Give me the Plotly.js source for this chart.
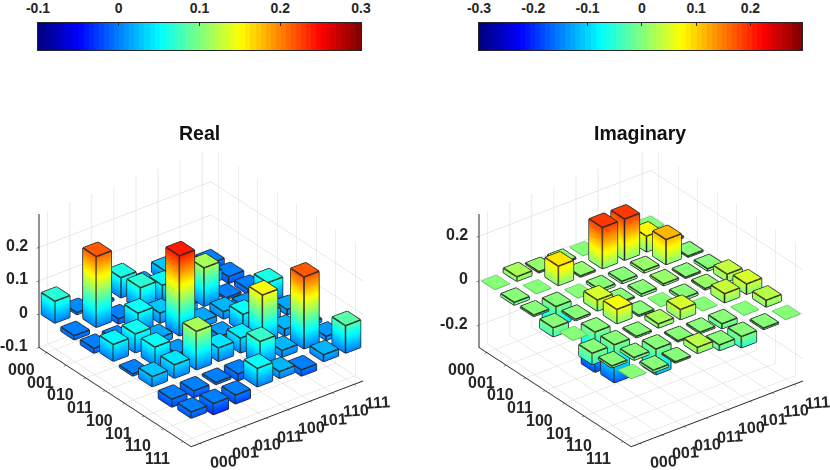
<!DOCTYPE html>
<html>
<head>
<meta charset="utf-8">
<script src="https://cdn.plot.ly/plotly-3.0.1.min.js"></script>
<style>html,body{margin:0;padding:0;background:#fff}</style>
</head>
<body>
<div id="chart" style="width:830px;height:470px"></div>
<script>
var binLabels = ['000', '001', '010', '011', '100', '101', '110', '111'];

// rows are the 000..111 axis on the left, columns the axis on the right
var realValues = [
  [0.065, 0.006, 0.005, 0.060, 0.010, 0.030, 0.005, -0.020],
  [-0.012, 0.212, -0.015, 0.068, 0.050, 0.020, 0.030, -0.020],
  [-0.014, -0.010, 0.055, 0.030, 0.020, 0.115, -0.005, -0.015],
  [0.050, 0.056, 0.017, 0.240, 0.017, 0.022, 0.010, 0.058],
  [-0.006, 0.055, 0.010, 0.005, 0.012, 0.052, 0.030, 0.016],
  [0.030, 0.040, 0.115, 0.040, 0.044, 0.148, 0.020, 0.010],
  [-0.023, -0.020, -0.006, -0.020, 0.072, 0.020, 0.215, 0.012],
  [-0.018, -0.033, -0.026, 0.055, 0.020, -0.018, 0.020, 0.082]
];
var imagValues = [
  [0, 0.020, 0.005, 0.004, 0, 0, 0, 0],
  [-0.012, 0, 0.087, 0.005, 0.185, 0.185, 0.070, 0.005],
  [-0.006, -0.090, 0, -0.010, -0.010, 0.010, 0.112, -0.005],
  [-0.040, -0.006, 0.049, -0.005, -0.010, 0.008, -0.005, -0.010],
  [0, -0.180, 0.064, -0.005, 0, -0.010, 0.006, 0.033],
  [-0.050, -0.170, -0.006, 0.018, 0.045, 0, 0.040, 0.046],
  [-0.008, -0.012, -0.115, -0.005, -0.006, -0.022, 0, 0.030],
  [0, -0.010, -0.005, 0.027, -0.025, -0.050, -0.006, 0]
];

var realZTicks = [-0.1, 0, 0.1, 0.2];
var realBarTicks = [-0.1, 0, 0.1, 0.2, 0.3];
var realBarRange = [-0.1, 0.3];
var imagZTicks = [-0.2, 0, 0.2];
var imagBarTicks = [-0.3, -0.2, -0.1, 0, 0.1, 0.2];
var imagBarRange = [-0.3, 0.295];

var textColor = '#262626';
var barWidth = 0.68;
var axisEnd = 0.4;
var inset = 1e-4;

function jetColor(t) {
  var chan = function(c) {
    return Math.round(255 * Math.max(0, Math.min(1, 1.5 - Math.abs(4 * t - c))));
  };
  return 'rgb(' + chan(3) + ',' + chan(2) + ',' + chan(1) + ')';
}
var jetScale = [];
for (var i = 0; i < 64; i++) {
  var col = jetColor((i + 0.5) / 64);
  jetScale.push([i / 64, col], [(i + 1) / 64, col]);
}

// one box per cell, from zero up (or down) to the value
function barTraces(values, sceneName, colorRange) {
  var xs = [], ys = [], zs = [], ii = [], jj = [], kk = [];
  var lx = [], ly = [], lz = [];
  var fx = [], fy = [], fz = [];
  var quads = [[0,1,2,3],[4,5,6,7],[0,1,5,4],[1,2,6,5],[2,3,7,6],[3,0,4,7]];
  var edges = [[0,1],[1,2],[2,3],[3,0],[4,5],[5,6],[6,7],[7,4],[0,4],[1,5],[2,6],[3,7]];
  var h = barWidth / 2;
  values.forEach(function(row, r) {
    row.forEach(function(v, c) {
      var n = xs.length;
      var lo = Math.min(v, 0), hi = Math.max(v, 0);
      [lo, hi].forEach(function(z) {
        xs.push(c - h, c + h, c + h, c - h);
        ys.push(r - h, r - h, r + h, r + h);
        zs.push(z, z, z, z);
      });
      quads.forEach(function(q) {
        ii.push(n + q[0], n + q[0]);
        jj.push(n + q[1], n + q[2]);
        kk.push(n + q[2], n + q[3]);
      });
      if (v === 0) {
        [[0,1],[1,2],[2,3],[3,0]].forEach(function(e) {
          fx.push(xs[n + e[0]], xs[n + e[1]], null);
          fy.push(ys[n + e[0]], ys[n + e[1]], null);
          fz.push(0, 0, null);
        });
      } else {
        edges.forEach(function(e) {
          lx.push(xs[n + e[0]], xs[n + e[1]], null);
          ly.push(ys[n + e[0]], ys[n + e[1]], null);
          lz.push(zs[n + e[0]], zs[n + e[1]], null);
        });
      }
    });
  });
  var mesh = {
    type: 'mesh3d', scene: sceneName,
    x: xs, y: ys, z: zs, i: ii, j: jj, k: kk,
    intensity: zs, colorscale: jetScale, cmin: colorRange[0], cmax: colorRange[1],
    showscale: false, hoverinfo: 'skip',
    lighting: { ambient: 1, diffuse: 0, specular: 0, roughness: 1, fresnel: 0 }
  };
  var lines = {
    type: 'scatter3d', mode: 'lines', scene: sceneName, x: lx, y: ly, z: lz,
    line: { color: '#262626', width: 3 }, hoverinfo: 'skip', showlegend: false
  };
  var flats = {
    type: 'scatter3d', mode: 'lines', scene: sceneName, x: fx, y: fy, z: fz,
    line: { color: '#5fc25f', width: 2 }, hoverinfo: 'skip', showlegend: false
  };
  return [mesh, lines, flats];
}

// the colour bar: two cells, smoothed by the heatmap through the stepped scale
function barStrip(colorRange, xName, yName) {
  return {
    type: 'heatmap', xaxis: xName, yaxis: yName,
    x: colorRange, y: [0], z: [colorRange],
    zsmooth: 'best', colorscale: jetScale, zmin: colorRange[0], zmax: colorRange[1],
    showscale: false, hoverinfo: 'skip'
  };
}

function stripXAxis(colorRange, ticks, domain, anchor) {
  return {
    domain: domain, range: colorRange, anchor: anchor, side: 'top',
    tickmode: 'array', tickvals: ticks, ticktext: ticks.map(String),
    ticks: 'inside', ticklen: 3, tickcolor: textColor, tickwidth: 1,
    ticklabelstandoff: 3,
    showgrid: false, zeroline: false, showline: true, mirror: true, linecolor: textColor, linewidth: 1,
    tickfont: { family: 'Liberation Sans', size: 14, color: textColor, weight: 'bold' }
  };
}
function stripYAxis(anchor) {
  return {
    domain: [420 / 470, 447 / 470], anchor: anchor, range: [-0.5, 0.5],
    showticklabels: false, ticks: '', showgrid: false, zeroline: false,
    showline: true, mirror: true, linecolor: textColor, linewidth: 1
  };
}

function tickAnnotations(zRange, zTicks) {
  var out = [];
  var font = { family: 'Liberation Sans', size: 16, color: textColor, weight: 'bold' };
  var zLow = zRange[0] + inset;
  binLabels.forEach(function(label, idx) {
    out.push({ x: -axisEnd + inset, y: idx, z: zLow, text: label, showarrow: false, font: font, xshift: -25, yshift: -17 });
    out.push({ x: idx, y: 7 + axisEnd - inset, z: zLow, text: label, showarrow: false, font: font, xshift: 24, yshift: -18, textangle: -4 });
  });
  zTicks.forEach(function(t) {
    out.push({ x: -axisEnd + inset, y: -axisEnd + inset, z: Math.max(t, zLow), text: String(t), showarrow: false, font: font, xanchor: 'right', xshift: -9, yshift: 2 });
  });
  return out;
}

function sceneLayout(zRange, zTicks, domainX) {
  var common = {
    showbackground: false, showspikes: false, zeroline: false,
    showgrid: true, gridcolor: 'rgb(210,210,210)', gridwidth: 1,
    showline: true, linecolor: textColor, linewidth: 2,
    ticks: 'outside', ticklen: 3, tickcolor: textColor, tickwidth: 1,
    showticklabels: false, title: { text: '' }
  };
  return {
    domain: { x: domainX, y: [0, 345 / 470] },
    xaxis: Object.assign({}, common, { range: [-axisEnd, 7 + axisEnd], tickvals: [0, 1, 2, 3, 4, 5, 6, 7] }),
    yaxis: Object.assign({}, common, { range: [7 + axisEnd, -axisEnd], tickvals: [0, 1, 2, 3, 4, 5, 6, 7] }),
    zaxis: Object.assign({}, common, { range: zRange, tickvals: zTicks }),
    aspectmode: 'manual',
    aspectratio: { x: 1.255, y: 1.45, z: 0.893 },
    camera: {
      projection: { type: 'orthographic' },
      eye: { x: -0.98, y: -1.28, z: 0.93 },
      center: { x: 0, y: 0, z: 0 },
      up: { x: 0, y: 0, z: 1 }
    },
    annotations: tickAnnotations(zRange, zTicks)
  };
}

var data = barTraces(realValues, 'scene', realBarRange)
  .concat(barTraces(imagValues, 'scene2', imagBarRange))
  .concat([barStrip(realBarRange, 'x', 'y'), barStrip(imagBarRange, 'x2', 'y2')]);

var layout = {
  width: 830, height: 470,
  margin: { l: 0, r: 0, t: 0, b: 0 },
  paper_bgcolor: '#fff',
  plot_bgcolor: '#fff',
  showlegend: false,
  xaxis: stripXAxis(realBarRange, realBarTicks, [38 / 830, 361 / 830], 'y'),
  yaxis: stripYAxis('x'),
  xaxis2: stripXAxis(imagBarRange, imagBarTicks, [479 / 830, 802 / 830], 'y2'),
  yaxis2: stripYAxis('x2'),
  scene: sceneLayout([-0.1, 0.3], realZTicks, [11.5 / 830, 389.5 / 830]),
  scene2: sceneLayout([-0.3, 0.3], imagZTicks, [451.8 / 830, 829.8 / 830]),
  annotations: [
    { xref: 'paper', yref: 'paper', x: 199 / 830, y: 1 - 133 / 470, xanchor: 'center', yanchor: 'middle',
      text: '<b>Real</b>', showarrow: false, font: { family: 'Liberation Sans', size: 19.5, color: '#111' } },
    { xref: 'paper', yref: 'paper', x: 640 / 830, y: 1 - 133 / 470, xanchor: 'center', yanchor: 'middle',
      text: '<b>Imaginary</b>', showarrow: false, font: { family: 'Liberation Sans', size: 19.5, color: '#111' } }
  ]
};

Plotly.newPlot('chart', data, layout, { displayModeBar: false });
</script>
</body>
</html>
